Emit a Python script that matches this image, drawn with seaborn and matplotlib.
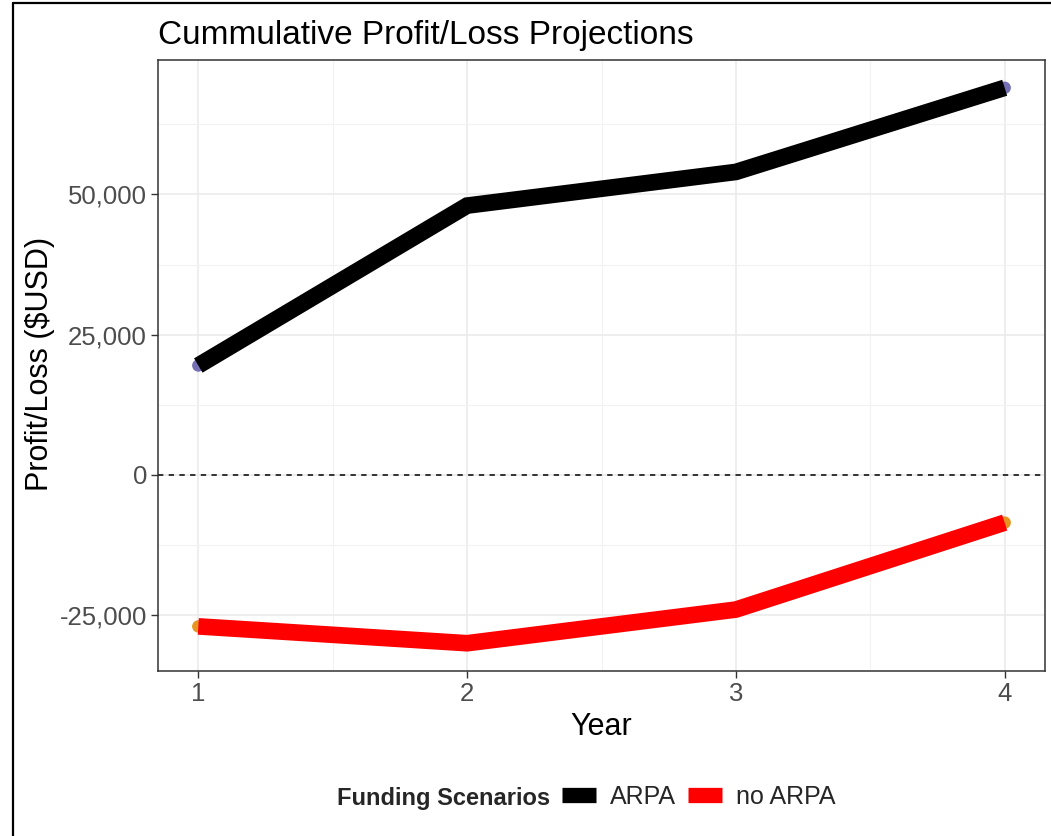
import numpy as np
import pandas as pd
import matplotlib
matplotlib.use('Agg')
import matplotlib.pyplot as plt
import seaborn as sns
from matplotlib.lines import Line2D
from matplotlib.ticker import FuncFormatter, MultipleLocator

# data
years = [1, 2, 3, 4]
arpa = [19500, 48000, 54000, 69000]
no_arpa = [-27000, -30000, -24000, -8500]
scenarios = ['ARPA', 'no ARPA']
line_colors = {'ARPA': '#000000', 'no ARPA': '#FF0000'}
point_colors = {'ARPA': '#7570B3', 'no ARPA': '#E69520'}

df = pd.DataFrame({
    'Year': years * 2,
    'Profit': arpa + no_arpa,
    'Scenario': [scenarios[0]] * 4 + [scenarios[1]] * 4,
})

sns.set_style('white')
plt.rcParams['font.family'] = ['Liberation Sans', 'DejaVu Sans']

fig = plt.figure(figsize=(10.51, 8.36), dpi=100)
ax = fig.add_axes([158 / 1051, 1 - 671 / 836, (1045 - 158) / 1051, (671 - 60) / 836])

# points underneath, thick lines on top
sns.scatterplot(data=df, x='Year', y='Profit', hue='Scenario', palette=point_colors,
                s=80, linewidth=0, ax=ax, legend=False, zorder=3)
sns.lineplot(data=df, x='Year', y='Profit', hue='Scenario', palette=line_colors,
             linewidth=12, ax=ax, legend=False, zorder=4,
             solid_capstyle='butt', solid_joinstyle='miter')
ax.axhline(0, color='black', linestyle=(0, (3.5, 3.5)), linewidth=1.1, zorder=2)

ymin, ymax = min(no_arpa), max(arpa)
pad = 0.05 * (ymax - ymin)
ax.set_xlim(0.85, 4.15)
ax.set_ylim(ymin - pad, ymax + pad)

ax.xaxis.set_major_locator(MultipleLocator(1))
ax.xaxis.set_minor_locator(MultipleLocator(0.5))
ax.yaxis.set_major_locator(MultipleLocator(25000))
ax.yaxis.set_minor_locator(MultipleLocator(12500))
ax.yaxis.set_major_formatter(FuncFormatter(lambda v, p: f'{v:,.0f}'))

ax.grid(which='major', color='#EBEBEB', linewidth=1.2, zorder=0)
ax.grid(which='minor', color='#F2F2F2', linewidth=0.8, zorder=0)
ax.set_axisbelow(True)
for s in ax.spines.values():
    s.set_visible(True)
    s.set_color('#333333')
    s.set_linewidth(1.1)

ax.tick_params(axis='both', which='major', length=5, width=1.0, color='#333333',
               labelsize=18.5, labelcolor='#4D4D4D', direction='out', pad=3,
               left=True, bottom=True)
ax.tick_params(which='minor', length=0)
ax.set_xlabel('')
ax.set_ylabel('')

fig.text(158 / 1051, 1 - 44 / 836, 'Cummulative Profit/Loss Projections',
         fontsize=24, ha='left', va='baseline', color='black')
fig.text(40 / 1051, 1 - 364 / 836, 'Profit/Loss ($USD)', rotation=90,
         fontsize=22, ha='center', va='center', color='black')
fig.text(601 / 1051, 1 - 727 / 836, 'Year', fontsize=22, ha='center', va='center',
         color='black')

# legend: title to the left, keys in one row
fig.text(550 / 1051, 1 - 798 / 836, 'Funding Scenarios', fontsize=17,
         fontweight='bold', ha='right', va='center')
handles = [Line2D([0], [0], color=line_colors[k], linewidth=11, solid_capstyle='butt')
           for k in scenarios]
fig.legend(handles, scenarios, loc='center left', ncol=2, frameon=False,
           bbox_to_anchor=(562 / 1051, 1 - 797 / 836), fontsize=18,
           handlelength=1.36, handletextpad=0.55, columnspacing=0.5,
           borderpad=0, borderaxespad=0)

# screenshot window frame
fig.add_artist(Line2D([13 / 1051, 13 / 1051], [0, 1 - 3 / 836], color='black',
                      linewidth=1.6, transform=fig.transFigure))
fig.add_artist(Line2D([13 / 1051, 1], [1 - 3 / 836, 1 - 3 / 836], color='black',
                      linewidth=1.6, transform=fig.transFigure))

fig.savefig('out.png', dpi=100)
